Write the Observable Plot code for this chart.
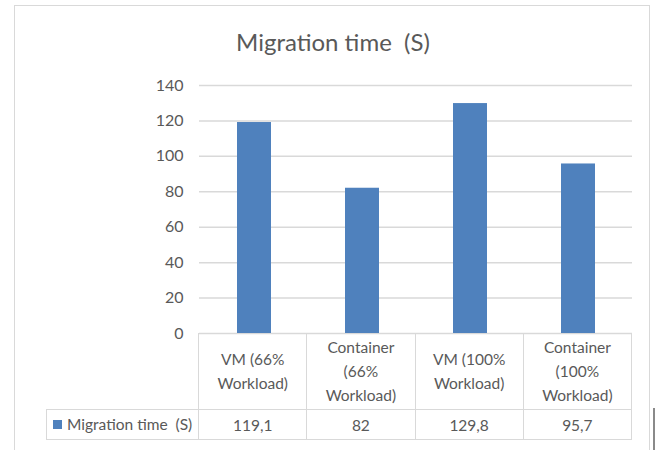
<!DOCTYPE html>
<html>
<head>
<meta charset="utf-8">
<script src="https://cdn.jsdelivr.net/npm/d3@7"></script>
<script src="https://cdn.jsdelivr.net/npm/@observablehq/plot@0.6"></script>
<style>
  html, body { margin: 0; padding: 0; background: #fff; }
  #root { position: relative; width: 656px; height: 450px; overflow: hidden; font-family: Lato, "Open Sans", sans-serif; color: #595959; }
  #frame { position: absolute; left: 14px; top: 5px; width: 636px; height: 500px; border: 1.5px solid #d9d9d9; box-sizing: border-box; }
  #title { position: absolute; left: 14px; width: 638px; top: 28px; height: 28px; line-height: 28px; text-align: center; font-size: 24px; white-space: pre; }
  #plot { position: absolute; left: 0; top: 0; }
  .cell { position: absolute; box-sizing: border-box; display: flex; align-items: center; justify-content: center; text-align: center; white-space: pre-line; font-size: 15.5px; line-height: 24px; border-color: #d9d9d9; border-style: solid; border-width: 0; }
  #edge { position: absolute; left: 653px; top: 408px; width: 1.5px; height: 42px; background: #8a8a8a; }
</style>
</head>
<body>
<div id="root">
  <div id="frame"></div>
  <div id="plot"></div>
  <div id="title"></div>
  <div id="edge"></div>
</div>
<script>
const title = "Migration time  (S)";
const seriesName = "Migration time  (S)";
const categories = ["VM (66%\nWorkload)", "Container\n(66%\nWorkload)", "VM (100%\nWorkload)", "Container\n(100%\nWorkload)"];
const values = [119.1, 82, 129.8, 95.7];
const valueLabels = ["119,1", "82", "129,8", "95,7"];
const yTicks = [0, 20, 40, 60, 80, 100, 120, 140];

const data = categories.map((c, i) => ({cat: c, value: values[i]}));

document.getElementById("title").textContent = title;

const chart = Plot.plot({
  width: 656,
  height: 335,
  marginLeft: 199,
  marginRight: 24,
  marginTop: 85,
  marginBottom: 2,
  style: {fontFamily: "Lato, 'Open Sans', sans-serif", fontSize: "15.5px", color: "#595959", background: "transparent", overflow: "visible"},
  x: {domain: categories, paddingInner: 0.686, paddingOuter: 0.343, axis: null},
  y: {domain: [0, 140], axis: null},
  marks: [
    Plot.gridY(yTicks, {stroke: "#d9d9d9", strokeOpacity: 1, strokeWidth: 1.5}),
    Plot.axisY(yTicks, {tickSize: 0, tickPadding: 16, fill: "#595959", fontSize: 16, label: null}),
    Plot.barY(data, {x: "cat", y: "value", fill: "#4f81bd"})
  ]
});
document.getElementById("plot").appendChild(chart);

// Data table below the plot, aligned to the x scale's range
const xs = chart.scale("x");
const ys = chart.scale("y");
const [x0, x1] = xs.range;
const colW = (x1 - x0) / categories.length;
const tableTop = ys.apply(0);
const headH = 77, rowH = 30;
const legendLeft = 46;
const root = document.getElementById("root");

function cell(left, top, w, h, borders, content) {
  const d = document.createElement("div");
  d.className = "cell";
  d.style.left = left + "px";
  d.style.top = top + "px";
  d.style.width = w + "px";
  d.style.height = h + "px";
  d.style.borderWidth = borders;
  if (content instanceof Node) d.appendChild(content); else d.textContent = content;
  root.appendChild(d);
  return d;
}

categories.forEach((c, i) => {
  const left = x0 + i * colW;
  cell(left - (i === 0 ? 0.75 : 0), tableTop, colW + (i === 0 ? 0.75 : 0), headH,
       i === 0 ? "0 1.5px 1.5px 1.5px" : "0 1.5px 1.5px 0", c);
  cell(left - (i === 0 ? 0.75 : 0), tableTop + headH, colW + (i === 0 ? 0.75 : 0), rowH,
       i === 0 ? "0 1.5px 1.5px 1.5px" : "0 1.5px 1.5px 0", valueLabels[i]);
});

// legend cell
const leg = document.createElement("span");
leg.style.display = "flex";
leg.style.alignItems = "center";
const sw = document.createElement("span");
sw.style.display = "inline-block";
sw.style.width = "9px";
sw.style.height = "9px";
sw.style.background = "#4f81bd";
sw.style.marginRight = "5px";
const lt = document.createElement("span");
lt.style.whiteSpace = "pre";
lt.textContent = seriesName;
leg.appendChild(sw);
leg.appendChild(lt);
const lc = cell(legendLeft, tableTop + headH - 1.5, x0 - legendLeft, rowH + 1.5, "1.5px 0 1.5px 1.5px", leg);
lc.style.justifyContent = "flex-start";
lc.style.paddingLeft = "6px";
</script>
</body>
</html>
